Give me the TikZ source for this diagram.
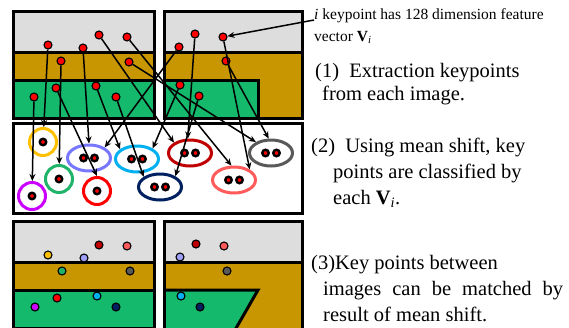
\documentclass[tikz,border=0pt]{standalone}
\usepackage{fontspec}
\setmainfont{Liberation Serif}
\usepackage{xcolor}
\usetikzlibrary{shapes.geometric,arrows.meta,positioning}

\definecolor{panelgray}{HTML}{DDDDDD}
\definecolor{gold}{HTML}{C89600}
\definecolor{grass}{HTML}{14B96C}
\definecolor{cyellow}{HTML}{FFC000}
\definecolor{cviolet}{HTML}{CC00FF}
\definecolor{cgreen}{HTML}{1FB46A}
\definecolor{cred}{HTML}{FF0000}
\definecolor{clav}{HTML}{7878FF}
\definecolor{clavlight}{HTML}{A0A0F8}
\definecolor{cblue}{HTML}{00B0F0}
\definecolor{cdark}{HTML}{C00000}
\definecolor{cnavy}{HTML}{002060}
\definecolor{csalmon}{HTML}{FF5B5B}
\definecolor{cgray}{HTML}{595959}

\begin{document}
\begin{tikzpicture}[x=1pt, y=-1pt,
  kp/.style={circle, draw=black, fill=red, line width=1.1pt,
             inner sep=0pt, minimum size=8pt},
  mdot/.style={circle, draw=black, fill=#1, line width=1.1pt,
               inner sep=0pt, minimum size=8pt},
  cdot/.style={circle, draw=black, fill=red, line width=2.4pt,
               inner sep=0pt, minimum size=6.5pt},
  ring/.style={circle, draw=#1, fill=white, line width=3pt,
               inner sep=0pt, minimum size=27pt},
  clu/.style={ellipse, draw=#1, fill=white, line width=3pt,
              inner sep=0pt, minimum width=43pt, minimum height=26pt},
  frame/.style={draw=black, line width=3pt},
  arr/.style={-{Stealth[length=7pt,width=6pt]}, line width=1.5pt},
  note/.style={align=left, anchor=base west, inner sep=0pt,
               font=\fontsize{20.5}{26}\selectfont},
  small/.style={anchor=base west, inner sep=0pt,
                font=\fontsize{15.5}{18}\selectfont}
]
\clip (0,0) rectangle (569,327);

% left images (before / after)
\foreach \dy in {0,210} {
  \fill[panelgray] (13,11+\dy) rectangle (154,52+\dy);
  \fill[gold] (13,52+\dy) rectangle (154,80+\dy);
  \fill[grass] (13,80+\dy) rectangle (154,118+\dy);
  \draw[frame] (13,52+\dy) -- (154,52+\dy) (13,80+\dy) -- (154,80+\dy);
  \draw[frame] (13,11+\dy) rectangle (154,118+\dy);
}

% right image, top
\fill[panelgray] (164,11) rectangle (302,52);
\fill[gold] (164,52) rectangle (302,118);
\fill[grass] (164,80) rectangle (258,118);
\draw[frame] (164,52) -- (302,52);
\draw[frame] (164,80) -- (258,80) -- (258,118);
\draw[frame] (164,11) rectangle (302,118);

% right image, bottom (seen at an angle)
\fill[panelgray] (164,221) rectangle (302,262);
\fill[gold] (164,262) rectangle (302,340);
\fill[grass] (164,290) -- (258,290) -- (231,337) -- (164,337) -- cycle;
\draw[frame] (164,262) -- (302,262);
\draw[frame] (164,290) -- (258,290) -- (231,337);
\draw[frame] (164,221) rectangle (302,340);

% mean shift panel
\draw[frame, fill=white] (13,123) rectangle (302,213);

% clusters
\foreach \nm/\x/\y/\col in {cYel/43/142/cyellow, cVio/32/196/cviolet,
                            cGrn/59/179/cgreen, cRed/97/191/cred} {
  \node[ring=\col] (\nm) at (\x,\y) {};
  \node[cdot] (\nm-1) at (\nm.center) {};
}
\foreach \nm/\x/\y/\col in {cLav/89/158/clav, cBlu/137/159/cblue,
                            cDrk/190/153/cdark, cNav/160/187/cnavy,
                            cSal/234/180/csalmon, cGry/271/153/cgray} {
  \node[clu=\col] (\nm) at (\x,\y) {};
  \node[cdot] (\nm-1) at ([xshift=-5.5pt]\nm.center) {};
  \node[cdot] (\nm-2) at ([xshift=5.5pt]\nm.center) {};
}

% keypoints
\foreach \nm/\x/\y in {kYel/48/45, kLav/83/48, kDrk/99/35, kSal/127/37,
                       kGrn/61/61, kGry/129/62, kRed/56/88, kBlu/96/86,
                       kNav/116/97, kVio/34/97,
                       kLav2/179/47, kDrk2/195/34, kSal2/223/37,
                       kGry2/226/61, kBlu2/180/85, kNav2/199/96}
  \node[kp] (\nm) at (\x,\y) {};

\draw[arr] (kYel) -- (cYel);
\draw[arr] (kVio) -- (cVio);
\draw[arr] (kGrn) -- (cGrn);
\draw[arr] (kRed) -- (cRed.north);
\draw[arr] (kLav) -- (cLav.north);
\draw[arr] (kLav2) -- (cLav.34);
\draw[arr] (kBlu) -- (cBlu.150);
\draw[arr] (kBlu2) -- (cBlu.34);
\draw[arr] (kDrk) -- (cDrk.147);
\draw[arr] (kDrk2) -- (cDrk.99);
\draw[arr] (kNav) -- (cNav.148);
\draw[arr] (kNav2) -- (cNav.35);
\draw[arr] (kSal) -- (cSal.100);
\draw[arr] (kSal2) -- (cSal.34);
\draw[arr] (kGry) -- (cGry.144);
\draw[arr] (kGry2) -- (cGry.99);

% matched keypoints
\foreach \nm/\x/\y/\col in {mYel/48/255/cyellow, mLav/84/258/clavlight,
                            mDrk/99/245/cdark, mSal/127/246/csalmon,
                            mGrn/62/271/cgreen, mGry/130/271/cgray,
                            mRed/57/298/cred, mBlu/97/296/cblue,
                            mNav/116/307/cnavy, mVio/35/307/cviolet,
                            mLav2/180/257/clavlight, mDrk2/196/244/cdark,
                            mSal2/224/246/csalmon, mGry2/227/271/cgray,
                            mBlu2/181/296/cblue, mNav2/200/307/cnavy}
  \node[mdot=\col] (\nm) at (\x,\y) {};

% texts
\node[small] (info) at (314,19) {\textit{i} keypoint has 128 dimension feature};
\node[small] (infov) at (314,41) {vector \textbf{V}\textsubscript{\textit{i}}};
\draw[arr] ([yshift=-1pt]info.base west) -- (kSal2);

\node[note, font=\fontsize{20.5}{23}\selectfont] (step1) at (315,100)
  {(1)~~Extraction keypoints\\\hspace*{7pt}from each image.};
\node[note] (step2) at (311,204)
  {(2)~~Using mean shift, key\\\hspace*{22pt}points are classified by\\
   \hspace*{22pt}each \textbf{V}\textsubscript{\textit{i}}.};
\node[note] (step3) at (311,321)
  {(3)Key points between\\
   \hspace*{12pt}\makebox[240pt][s]{images can be matched by}\\
   \hspace*{12pt}result of mean shift.};
\end{tikzpicture}
\end{document}
